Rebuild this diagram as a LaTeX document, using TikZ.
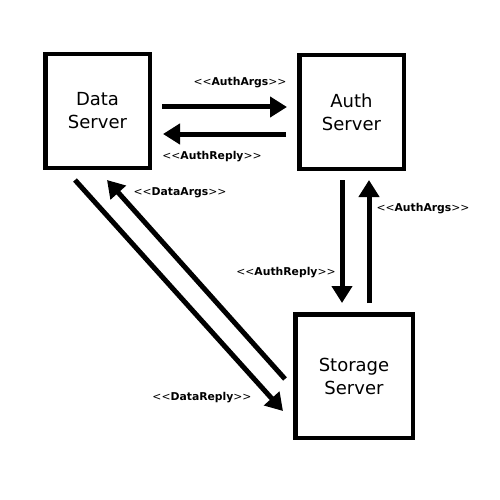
\documentclass[tikz,border=0pt]{standalone}
\usepackage{fontspec}
\setmainfont{DejaVu Sans}[Ligatures=TeXOff]
\usetikzlibrary{arrows.meta}
\begin{document}
\begin{tikzpicture}[x=1pt,y=-1pt,
  server/.style={draw,line width=4.5pt,align=center,font=\fontsize{18}{23}\selectfont,inner sep=0pt},
  arr/.style={line width=5pt,-{Triangle[length=17pt,width=20pt]}},
  lbl/.style={font=\fontsize{10.8}{13}\selectfont,inner sep=0pt}]
\useasboundingbox[fill=white] (0,0) rectangle (500,500);
\node[server,minimum width=104.5pt,minimum height=113.5pt] (data) at (97.5,111) {Data\\Server};
\node[server,minimum width=104.5pt,minimum height=113.5pt] (auth) at (351.5,112) {Auth\\Server};
\node[server,minimum width=117.5pt,minimum height=123.5pt] (storage) at (354,376) {Storage\\Server};
\newcommand{\lab}[1]{<<\textbf{#1}>>}
% horizontal
\draw[arr,shorten <=10pt,shorten >=10pt] (data.east |- 0,107) -- (auth.west |- 0,107);
\draw[arr,shorten <=11pt,shorten >=11pt] (auth.west |- 0,134) -- (data.east |- 0,134);
% vertical
\draw[arr,shorten <=9pt,shorten >=9pt] (auth.south -| 342,0) -- (storage.north -| 342,0);
\draw[arr,shorten <=9pt,shorten >=9pt] (storage.north -| 369,0) -- (auth.south -| 369,0);
% diagonal
\coordinate (da1) at (285,379);
\coordinate (da2) at (107,180);
\coordinate (dr1) at (75,180);
\coordinate (dr2) at (283,411);
\draw[arr] (da1) -- (da2);
\draw[arr] (dr1) -- (dr2);
% labels
\node[lbl] (l1) at (240,83) {\lab{AuthArgs}};
\node[lbl] (l2) at (212,157) {\lab{AuthReply}};
\node[lbl] (l3) at (180,193) {\lab{DataArgs}};
\node[lbl] (l4) at (286,273) {\lab{AuthReply}};
\node[lbl] (l5) at (423,209) {\lab{AuthArgs}};
\node[lbl] (l6) at (202,398) {\lab{DataReply}};
\end{tikzpicture}
\end{document}
